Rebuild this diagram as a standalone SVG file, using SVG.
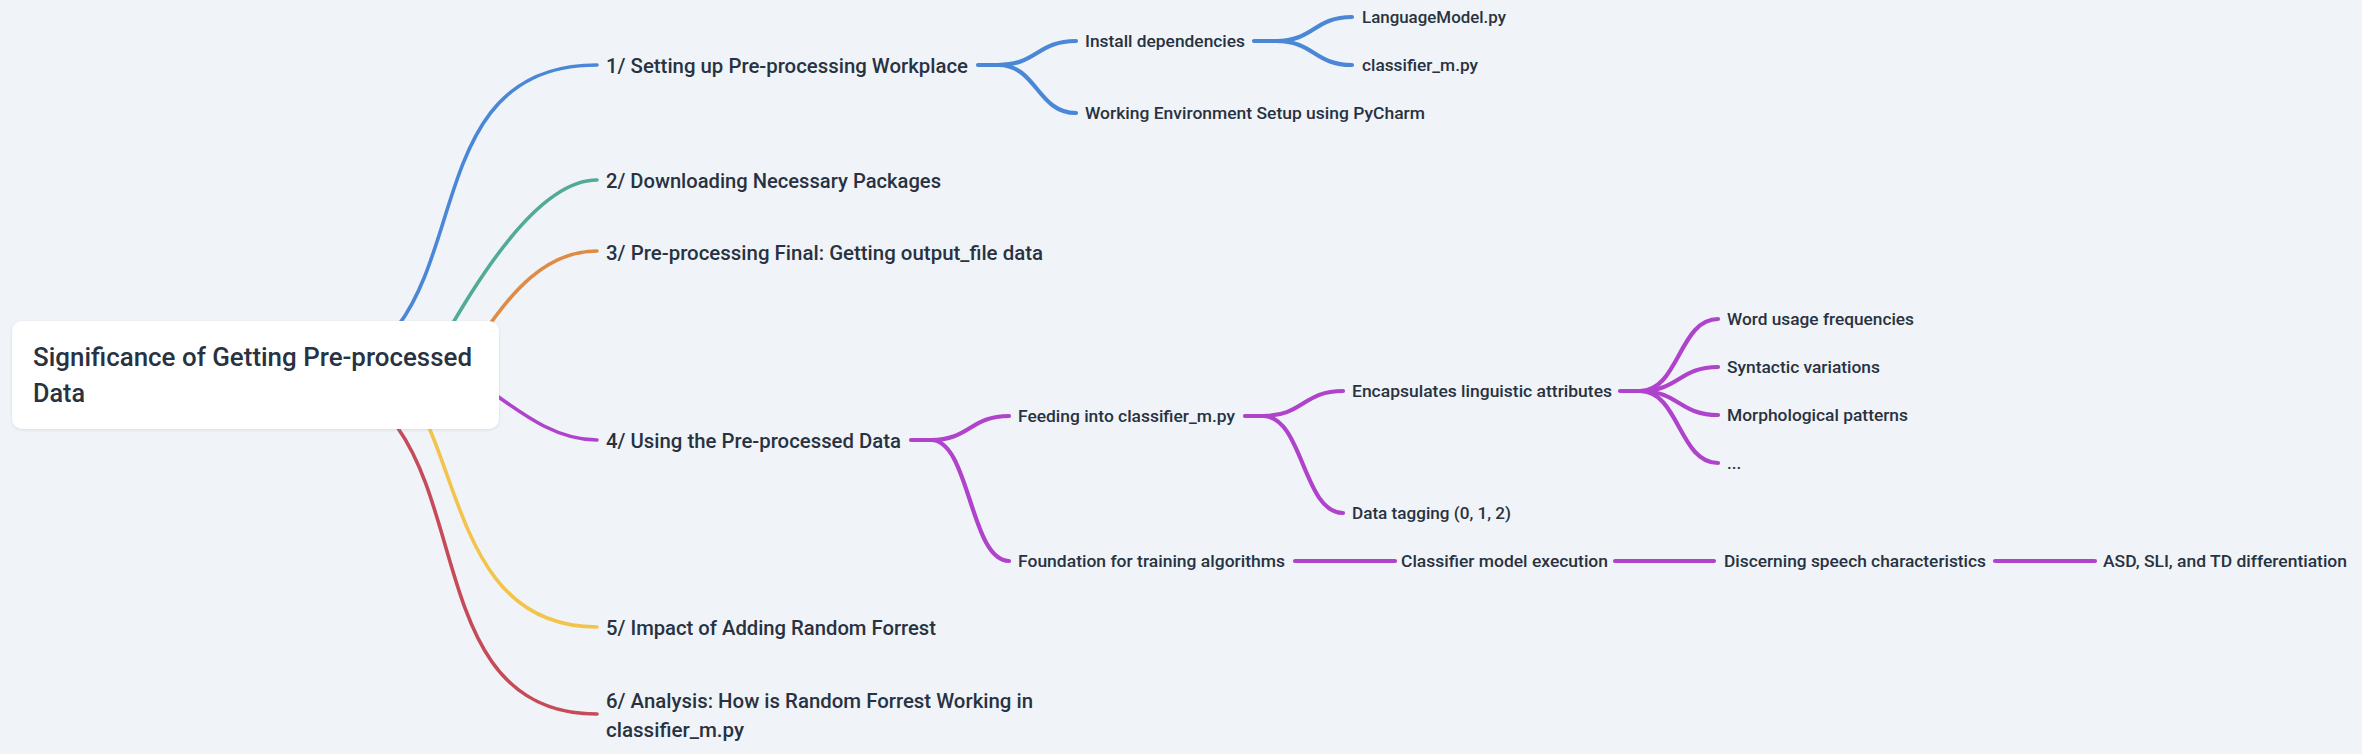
<svg xmlns="http://www.w3.org/2000/svg" width="2362" height="754" viewBox="0 0 2362 754">
<defs>
<filter id="sh" x="-5%" y="-20%" width="110%" height="140%">
<feDropShadow dx="0" dy="1" stdDeviation="1.5" flood-color="#8a96a8" flood-opacity="0.25"/>
</filter>
<style>
.t{font-family:Roboto,"Liberation Sans",sans-serif;fill:#283241;font-weight:500;}
.l0{font-size:25px;}
.l1{font-size:20px;}
.l2{font-size:17px;}
.c{fill:none;stroke-linecap:round;stroke-linejoin:round;}
.m{stroke-width:3.6;}
.b{stroke-width:4.2;}
.blue{stroke:#4a87d6;}
.green{stroke:#52ab98;}
.orange{stroke:#e08b45;}
.purple{stroke:#b043cc;}
.yellow{stroke:#f2c44b;}
.red{stroke:#c64a58;}
</style>
</defs>
<rect x="0" y="0" width="2362" height="754" fill="#f0f4f8"/>
<g id="connectors">
<path class="c m blue" d="M290,375 C501,375 387,65 597,65"/>
<path class="c m green" d="M440,345 C472,290 535,180 597,180"/>
<path class="c m orange" d="M478,340 C500,312 535,251 597,251"/>
<path class="c m purple" d="M470,378 C505,398 545,440 597,440"/>
<path class="c m yellow" d="M412,395 C462,472 462,627 597,627"/>
<path class="c m red" d="M290,375 C501,375 390,714 597,714"/>
<path class="c b blue" d="M978,65 H998 C1037,65 1037,41 1076,41"/>
<path class="c b blue" d="M998,65 C1037,65 1037,113 1076,113"/>
<path class="c b blue" d="M1254,41 H1276 C1314,41 1314,17 1352,17"/>
<path class="c b blue" d="M1276,41 C1314,41 1314,65 1352,65"/>
<path class="c b purple" d="M911,440 H931 C970,440 970,416 1009,416"/>
<path class="c b purple" d="M931,440 C970,440 970,561 1009,561"/>
<path class="c b purple" d="M1245,416 H1263 C1303,416 1303,391 1343,391"/>
<path class="c b purple" d="M1263,416 C1303,416 1303,513 1343,513"/>
<path class="c b purple" d="M1620,391 H1640 C1679,391 1679,319 1718,319"/>
<path class="c b purple" d="M1640,391 C1679,391 1679,367 1718,367"/>
<path class="c b purple" d="M1640,391 C1679,391 1679,415 1718,415"/>
<path class="c b purple" d="M1640,391 C1679,391 1679,463 1718,463"/>
<path class="c b purple" d="M1295,561 H1395"/>
<path class="c b purple" d="M1615,561 H1714"/>
<path class="c b purple" d="M1995,561 H2095"/>
</g>
<g id="root">
<rect x="12" y="321" width="487" height="108" rx="10" fill="#ffffff" filter="url(#sh)"/>
<text class="t l0" x="33" y="366" textLength="439" lengthAdjust="spacingAndGlyphs">Significance of Getting Pre-processed</text>
<text class="t l0" x="33" y="402" textLength="52" lengthAdjust="spacingAndGlyphs">Data</text>
</g>
<g id="n1"><text class="t l1" x="606" y="73" textLength="362" lengthAdjust="spacingAndGlyphs">1/ Setting up Pre-processing Workplace</text></g>
<g id="n2"><text class="t l1" x="606" y="188" textLength="335" lengthAdjust="spacingAndGlyphs">2/ Downloading Necessary Packages</text></g>
<g id="n3"><text class="t l1" x="606" y="260" textLength="437" lengthAdjust="spacingAndGlyphs">3/ Pre-processing Final: Getting output_file data</text></g>
<g id="n4"><text class="t l1" x="606" y="448" textLength="295" lengthAdjust="spacingAndGlyphs">4/ Using the Pre-processed Data</text></g>
<g id="n5"><text class="t l1" x="606" y="635" textLength="330" lengthAdjust="spacingAndGlyphs">5/ Impact of Adding Random Forrest</text></g>
<g id="n6">
<text class="t l1" x="606" y="708" textLength="427" lengthAdjust="spacingAndGlyphs">6/ Analysis: How is Random Forrest Working in</text>
<text class="t l1" x="606" y="737" textLength="138" lengthAdjust="spacingAndGlyphs">classifier_m.py</text>
</g>
<g id="n1a"><text class="t l2" x="1085" y="47" textLength="160" lengthAdjust="spacingAndGlyphs">Install dependencies</text></g>
<g id="n1b"><text class="t l2" x="1085" y="119" textLength="340" lengthAdjust="spacingAndGlyphs">Working Environment Setup using PyCharm</text></g>
<g id="n1a1"><text class="t l2" x="1362" y="23" textLength="144" lengthAdjust="spacingAndGlyphs">LanguageModel.py</text></g>
<g id="n1a2"><text class="t l2" x="1362" y="71" textLength="116" lengthAdjust="spacingAndGlyphs">classifier_m.py</text></g>
<g id="n4a"><text class="t l2" x="1018" y="422" textLength="217" lengthAdjust="spacingAndGlyphs">Feeding into classifier_m.py</text></g>
<g id="n4b"><text class="t l2" x="1018" y="567" textLength="267" lengthAdjust="spacingAndGlyphs">Foundation for training algorithms</text></g>
<g id="n4a1"><text class="t l2" x="1352" y="397" textLength="260" lengthAdjust="spacingAndGlyphs">Encapsulates linguistic attributes</text></g>
<g id="n4a2"><text class="t l2" x="1352" y="519" textLength="159" lengthAdjust="spacingAndGlyphs">Data tagging (0, 1, 2)</text></g>
<g id="n4a1a"><text class="t l2" x="1727" y="325" textLength="187" lengthAdjust="spacingAndGlyphs">Word usage frequencies</text></g>
<g id="n4a1b"><text class="t l2" x="1727" y="373" textLength="153" lengthAdjust="spacingAndGlyphs">Syntactic variations</text></g>
<g id="n4a1c"><text class="t l2" x="1727" y="421" textLength="181" lengthAdjust="spacingAndGlyphs">Morphological patterns</text></g>
<g id="n4a1d"><text class="t l2" x="1727" y="469">...</text></g>
<g id="n4b1"><text class="t l2" x="1401" y="567" textLength="207" lengthAdjust="spacingAndGlyphs">Classifier model execution</text></g>
<g id="n4b2"><text class="t l2" x="1724" y="567" textLength="262" lengthAdjust="spacingAndGlyphs">Discerning speech characteristics</text></g>
<g id="n4b3"><text class="t l2" x="2103" y="567" textLength="244" lengthAdjust="spacingAndGlyphs">ASD, SLI, and TD differentiation</text></g>
</svg>
